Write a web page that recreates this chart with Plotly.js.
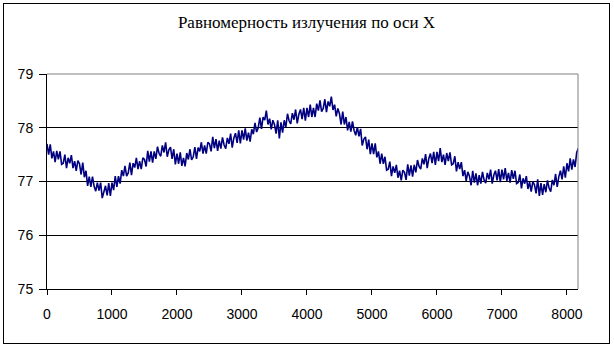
<!DOCTYPE html>
<html>
<head>
<meta charset="utf-8">
<script src="https://cdn.plot.ly/plotly-3.0.1.min.js"></script>
<style>
html,body{margin:0;padding:0;background:#fff;}
#frame{position:absolute;left:3px;top:3px;width:605px;height:339px;border:1px solid #000;}
#chart{width:605px;height:339px;}
</style>
</head>
<body>
<div id="frame"><div id="chart"></div></div>
<script>
var chartTitle = "Равномерность излучения по оси X";
var xStep = 25;
var yValues = [
77.70,77.50,77.69,77.43,77.56,77.36,77.57,77.41,77.56,77.32,
77.34,77.50,77.25,77.44,77.34,77.49,77.25,77.38,77.20,77.39,
77.33,77.13,77.35,77.08,77.20,76.92,77.09,76.90,77.09,76.91,
76.82,76.98,76.83,76.98,76.69,76.82,76.92,76.74,76.97,76.73,
76.98,76.84,77.10,76.90,77.10,76.96,77.21,77.10,77.29,77.10,
77.16,77.35,77.12,77.34,77.26,77.44,77.23,77.38,77.23,77.44,
77.41,77.28,77.57,77.37,77.56,77.35,77.56,77.42,77.65,77.52,
77.47,77.67,77.54,77.73,77.46,77.59,77.64,77.42,77.60,77.32,
77.52,77.33,77.54,77.29,77.44,77.28,77.53,77.41,77.60,77.40,
77.46,77.64,77.42,77.63,77.56,77.73,77.52,77.67,77.52,77.73,
77.70,77.56,77.83,77.62,77.79,77.57,77.76,77.61,77.82,77.68,
77.61,77.81,77.70,77.89,77.63,77.81,77.90,77.72,77.95,77.71,
77.95,77.78,77.99,77.76,77.91,77.74,77.97,77.88,78.09,77.92,
78.00,78.19,77.98,78.20,78.14,78.32,78.06,78.17,77.97,78.14,
78.06,77.89,78.14,77.80,78.10,77.91,78.14,78.01,78.26,78.13,
78.07,78.27,78.15,78.34,78.08,78.25,78.34,78.16,78.37,78.13,
78.37,78.20,78.43,78.20,78.37,78.20,78.45,78.32,78.51,78.30,
78.36,78.53,78.29,78.49,78.40,78.58,78.33,78.43,78.21,78.36,
78.26,78.06,78.30,78.06,78.20,77.95,78.11,77.93,78.12,77.95,
77.86,78.01,77.84,77.98,77.67,77.79,77.83,77.60,77.78,77.51,
77.71,77.51,77.71,77.45,77.56,77.33,77.52,77.33,77.46,77.21,
77.23,77.37,77.10,77.28,77.16,77.31,77.07,77.20,77.02,77.21,
77.17,77.03,77.32,77.11,77.30,77.09,77.31,77.17,77.40,77.28,
77.23,77.43,77.32,77.51,77.25,77.43,77.52,77.34,77.55,77.31,
77.55,77.38,77.62,77.36,77.50,77.31,77.53,77.38,77.54,77.31,
77.33,77.47,77.19,77.36,77.23,77.36,77.10,77.21,77.01,77.18,
77.10,76.93,77.20,76.98,77.15,76.93,77.12,76.96,77.18,77.03,
76.97,77.16,77.04,77.22,76.96,77.12,77.20,77.02,77.23,76.99,
77.22,77.04,77.25,77.01,77.16,76.98,77.21,77.05,77.20,76.96,
76.98,77.13,76.87,77.06,76.96,77.10,76.86,76.99,76.81,77.00,
76.94,76.78,77.04,76.73,76.97,76.75,76.95,76.80,77.02,76.88,
76.81,77.03,76.93,77.14,76.90,77.09,77.20,77.04,77.28,77.07,
77.34,77.19,77.43,77.22,77.41,77.27,77.54,77.62
];
var xValues = yValues.map(function(v, i){ return i * xStep; });
var xTicks = [0,1000,2000,3000,4000,5000,6000,7000,8000];
var yTicks = [75,76,77,78,79];

var trace = {
  x: xValues, y: yValues, type: 'scatter', mode: 'lines',
  line: {color: '#000080', width: 1.6}, hoverinfo: 'skip'
};
var tickFont = {family: 'Liberation Sans, Arial, sans-serif', size: 14, color: '#000'};
var layout = {
  width: 605, height: 339,
  margin: {l: 43, r: 31, t: 70, b: 54},
  paper_bgcolor: '#fff', plot_bgcolor: '#fff',
  showlegend: false,
  title: {text: chartTitle, font: {family: 'Liberation Serif, Times New Roman, serif', size: 17, color: '#000'},
          x: 0.5, xanchor: 'center', y: 1 - 18/339, yanchor: 'middle'},
  xaxis: {range: [0, 8170], tickvals: xTicks, ticktext: xTicks.map(String),
          showgrid: false, zeroline: false, showline: true, linecolor: '#000', linewidth: 1,
          ticks: 'outside', ticklen: 5, tickcolor: '#000', tickwidth: 1,
          ticklabelstandoff: 7, tickfont: tickFont},
  yaxis: {range: [75, 79], tickvals: yTicks, ticktext: yTicks.map(String),
          showgrid: true, gridcolor: '#000', gridwidth: 1, zeroline: false,
          showline: true, linecolor: '#000', linewidth: 1,
          ticks: 'outside', ticklen: 7, tickcolor: '#000', tickwidth: 1,
          ticklabelstandoff: 3, tickfont: tickFont},
  shapes: [
    {type: 'line', xref: 'paper', yref: 'paper', x0: 0, x1: 1, y0: 1, y1: 1, line: {color: '#808080', width: 1}, layer: 'above'},
    {type: 'line', xref: 'paper', yref: 'paper', x0: 1, x1: 1, y0: 0, y1: 1, line: {color: '#808080', width: 1}, layer: 'above'}
  ]
};
Plotly.newPlot('chart', [trace], layout, {displayModeBar: false, staticPlot: true});
</script>
</body>
</html>
